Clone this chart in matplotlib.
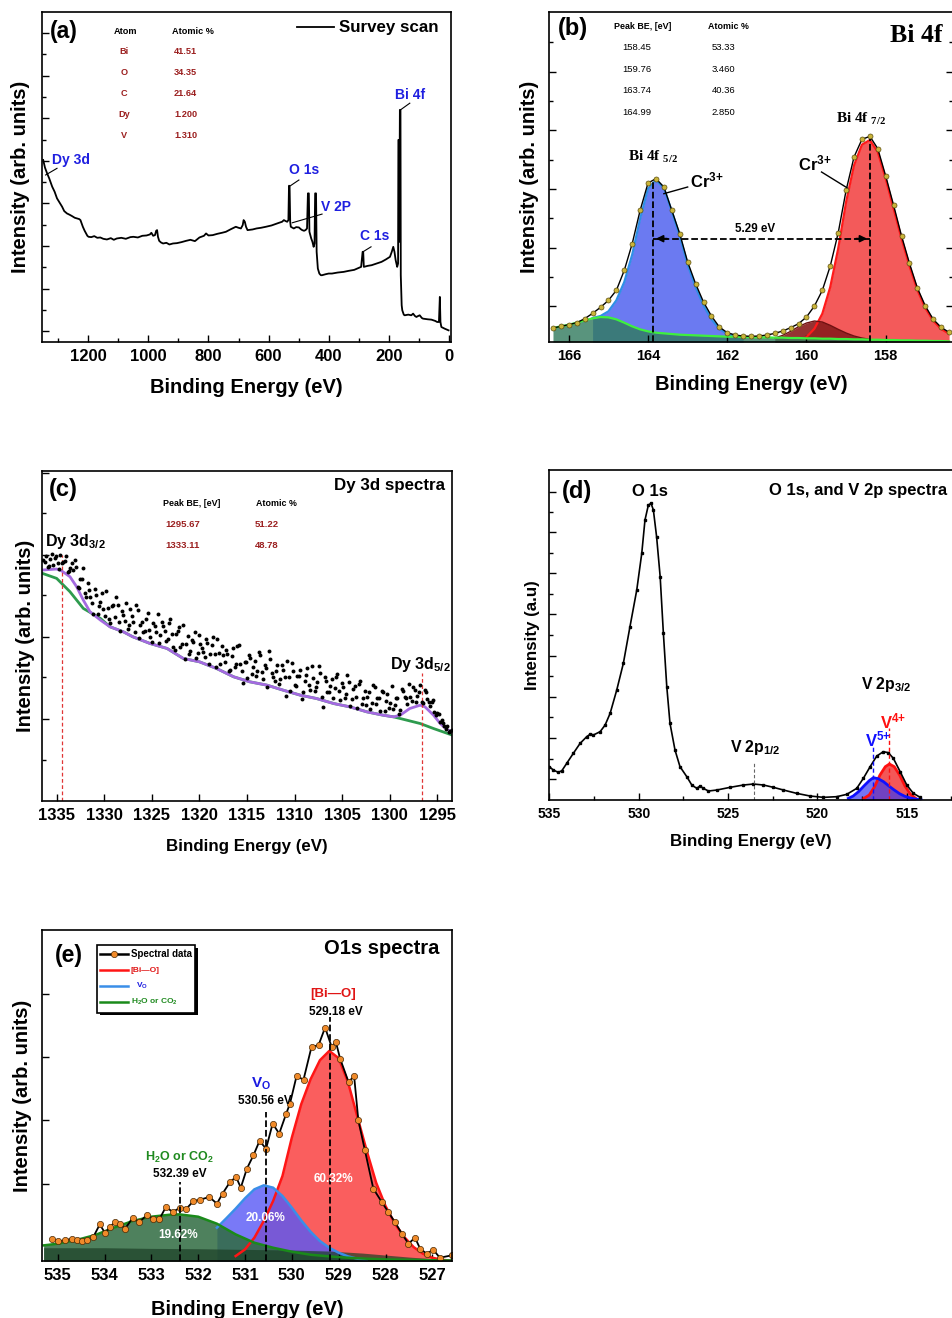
"""XPS spectra of Dy/V co-doped Bi sample: survey, Bi 4f, Dy 3d, O 1s/V 2p and O 1s fits."""

import numpy as np
import matplotlib.pyplot as plt
from matplotlib.ticker import MultipleLocator
from matplotlib.patches import Rectangle

plt.rcParams['font.family'] = ['Liberation Sans', 'DejaVu Sans']
plt.rcParams['font.weight'] = 'bold'
plt.rcParams['axes.labelweight'] = 'bold'
plt.rcParams['mathtext.default'] = 'regular'
plt.rcParams['axes.linewidth'] = 1.2

DARK_RED = '#9b1f1f'
SERIF = ['Liberation Serif', 'DejaVu Serif']

# ---------------- (a) survey scan ----------------
survey_be = [1350, 1344, 1337, 1330, 1320, 1312, 1304, 1296, 1287, 1280, 1271, 1262,
             1254, 1245, 1237, 1230, 1226, 1222, 1218, 1212, 1207, 1203, 1199, 1190,
             1180, 1170, 1160, 1150, 1138, 1125, 1115, 1105, 1090, 1075, 1060, 1050,
             1035, 1020, 1006, 995, 990, 984, 978, 974, 971, 968, 964, 958, 951, 940,
             930, 918, 905, 890, 874, 860, 845, 830, 815, 808, 800, 786, 770, 755,
             742, 725, 709, 700, 692, 686, 683, 679, 675, 670, 660, 653, 640, 625,
             609, 590, 575, 565, 555, 549, 543, 538, 534, 532, 530, 528, 526, 520,
             516, 508, 499, 493, 488, 482, 477, 472, 469, 466, 464, 458, 454, 450,
             447, 445, 442, 440, 436, 431, 426, 422, 410, 400, 389, 370, 350, 334,
             315, 300, 292, 287, 285, 283, 270, 257, 240, 224, 210, 196, 190, 185,
             181, 177, 172, 169, 168, 166, 165, 163, 161, 160, 157, 155, 150, 147,
             135, 125, 119, 113, 108, 102, 97, 90, 86, 70, 58, 45, 39, 33, 30, 28,
             25, 14, 1]
survey_int = [545, 522, 505, 490, 465, 450, 430, 418, 405, 392, 385, 381,
              377, 372, 370, 368, 365, 355, 345, 333, 325, 318, 315, 314,
              317, 312, 313, 309, 307, 311, 306, 310, 312, 309, 314, 315,
              313, 318, 319, 322, 327, 318, 320, 333, 335, 315, 303, 298, 295, 297,
              292, 295, 296, 299, 303, 306, 302, 313, 318, 325, 319, 320, 324, 327,
              330, 338, 345, 342, 340, 350, 365, 360, 345, 335, 336, 337, 340, 342,
              345, 349, 354, 357, 360, 365, 362, 360, 365, 468, 465, 360, 345, 342,
              340, 344, 343, 338, 335, 333, 335, 340, 445, 445, 330, 310, 300, 285,
              295, 445, 445, 270, 220, 205, 200, 200, 203, 205, 205, 208, 210, 213,
              216, 222, 225, 270, 270, 225, 228, 230, 235, 240, 247, 255, 270, 285,
              270, 245, 225, 235, 605, 605, 300, 695, 695, 200, 110, 95, 82, 80,
              82, 80, 85, 78, 75, 78, 80, 72, 70, 68, 67, 63, 60, 60, 135, 60,
              45, 40, 35]
survey_atoms = ['Bi', 'O', 'C', 'Dy', 'V']
survey_pct = ['41.51', '34.35', '21.64', '1.200', '1.310']

# ---------------- (b) Bi 4f ----------------
bi_be = np.linspace(166.4, 156.4, 51)
bi_data = [42, 47, 52, 58, 70, 86, 104, 125, 155, 215,
           295, 395, 477, 490, 465, 395, 325, 240, 175, 120,
           78, 45, 28, 21, 18, 17, 18, 21, 26, 33,
           43, 55, 75, 108, 155, 228, 327, 455, 555, 608,
           617, 580, 498, 410, 318, 236, 162, 108, 68, 44, 29]
bi_green = [42, 47, 52, 58, 65, 71, 75, 74, 68, 58,
            47, 38, 32, 28, 26, 24, 22, 21, 20, 19,
            18, 17, 16, 16, 15, 15, 14, 14, 13, 13,
            12, 12, 11, 11, 10, 10, 9, 9, 8, 8,
            7, 7, 6, 6, 5, 5, 4, 4, 3, 3, 2]
bi52_be = np.linspace(165.4, 161.6, 20)
bi52_int = [72, 78, 92, 125, 180, 262, 370, 460, 486, 462,
            392, 318, 232, 165, 110, 68, 40, 24, 18, 16]
bi_sat_be = np.linspace(160.8, 158.4, 13)
bi_sat_int = [12, 20, 32, 46, 57, 63, 60, 50, 38, 27, 18, 12, 8]
bi72_be = np.linspace(160.0, 156.4, 19)
bi72_int = [15, 40, 85, 165, 280, 420, 530, 592, 606, 570,
            490, 400, 310, 228, 156, 102, 64, 39, 25]
bi_peak_be = ['158.45', '159.76', '163.74', '164.99']
bi_peak_pct = ['53.33', '3.460', '40.36', '2.850']

# ---------------- (c) Dy 3d ----------------
dy_be = np.linspace(1336.4, 1293.5, 144)
dy_data = [722, 735, 704, 740, 728, 714, 738, 716, 735, 688,
           714, 721, 641, 664, 697, 612, 632, 592, 636, 559,
           597, 576, 630, 544, 585, 552, 588, 510, 557, 592,
           528, 554, 505, 571, 528, 505, 546, 513, 475, 523,
           561, 498, 525, 478, 534, 499, 453, 508, 462, 527,
           470, 439, 482, 505, 443, 471, 447, 484, 411, 467,
           439, 486, 411, 437, 453, 389, 435, 401, 464, 411,
           353, 416, 438, 381, 419, 388, 436, 364, 397, 450,
           383, 360, 407, 365, 392, 314, 372, 414, 347, 374,
           392, 325, 378, 347, 405, 328, 356, 384, 281, 359,
           326, 364, 337, 380, 303, 341, 319, 357, 305, 343,
           280, 358, 310, 288, 326, 294, 342, 310, 269, 327,
           301, 279, 343, 287, 309, 272, 328, 309, 350, 299,
           332, 315, 347, 295, 325, 296, 297, 268, 263, 237, 234, 217, 207, 212]
# second sweep, offset half a step
dy_be2 = np.linspace(1336.25, 1293.65, 143)
dy_data2 = [715, 702, 726, 707, 734, 694, 713, 718, 686, 698,
            692, 700, 637, 665, 624, 654, 612, 559, 617, 585,
            624, 553, 577, 532, 588, 610, 536, 568, 539, 515,
            576, 537, 588, 489, 536, 508, 564, 491, 534, 507,
            474, 536, 509, 486, 546, 461, 500, 520, 469, 426,
            494, 448, 476, 429, 497, 459, 430, 472, 439, 490,
            402, 443, 464, 415, 441, 392, 458, 410, 467, 389,
            417, 369, 427, 400, 373, 447, 385, 408, 341, 424,
            371, 388, 351, 408, 370, 418, 330, 388, 345, 373,
            306, 359, 397, 331, 369, 342, 405, 312, 370, 327,
            345, 308, 371, 329, 352, 310, 378, 286, 334, 311,
            349, 291, 329, 312, 275, 348, 291, 309, 328, 271,
            320, 293, 277, 308, 260, 335, 311, 292, 312, 340,
            298, 326, 296, 332, 305, 286, 302, 258, 262, 243, 225, 224, 209]
dy_fit_be = [1336.5, 1335, 1334.5, 1333.6, 1332.9, 1332.2, 1331.5, 1330.4, 1329.4,
             1328, 1327, 1325.2, 1323.4, 1321.7, 1320, 1318.2, 1316.4, 1314.7,
             1312.9, 1311.2, 1309.4, 1307.7, 1305.9, 1304.2, 1302.4, 1300.7,
             1299.6, 1298.9, 1297.9, 1296.8, 1296.3, 1295.4, 1294.7, 1294, 1293.4]
dy_fit_int = [692, 695, 690, 672, 642, 602, 567, 542, 522,
              507, 492, 472, 457, 427, 417, 397, 372, 357,
              347, 332, 317, 307, 292, 282, 267, 257,
              252, 257, 277, 287, 282, 257, 232, 214, 207]
dy_bg_be = [1336.5, 1335, 1334.3, 1333.6, 1332.2, 1330.4, 1329.4, 1328, 1327,
            1325.2, 1323.4, 1321.7, 1320, 1318.2, 1316.4, 1314.7, 1312.9, 1311.2,
            1309.4, 1307.7, 1305.9, 1304.2, 1302.4, 1300.7, 1299.6, 1298.9,
            1296.8, 1295.4, 1293.4]
dy_bg_int = [682, 667, 647, 627, 577, 547, 522, 507, 492,
             472, 457, 427, 417, 397, 372, 357, 347, 332,
             317, 307, 292, 282, 267, 257, 252, 247,
             232, 217, 197]
dy_marks = [1334.4, 1296.6]
dy_peak_be = ['1295.67', '1333.11']
dy_peak_pct = ['51.22', '48.78']

# ---------------- (d) O 1s + V 2p ----------------
ov_be = [535.0, 534.78, 534.5, 534.3, 534.03, 533.66, 533.28, 532.91, 532.7, 532.54,
         532.16, 531.88, 531.6, 531.23, 530.86, 530.49, 530.11, 529.83, 529.65, 529.46,
         529.31, 529.18, 529.0, 528.8, 528.62, 528.43, 528.25, 527.97, 527.69, 527.31,
         527.03, 526.75, 526.57, 526.38, 526.1, 525.63, 524.89, 524.14, 523.58, 523.02,
         522.46, 521.9, 521.16, 520.41, 519.66, 518.92, 518.36, 517.8, 517.43, 517.05,
         516.68, 516.31, 516.03, 515.75, 515.37, 515.0, 514.63, 514.25]
ov_int = [100, 90, 83, 88, 110, 140, 170, 190, 198, 195,
          205, 225, 260, 330, 410, 520, 630, 740, 840, 885,
          890, 870, 790, 670, 500, 340, 230, 150, 100, 70,
          45, 35, 42, 35, 27, 30, 38, 45, 48, 45,
          38, 30, 20, 12, 8, 10, 17, 35, 65, 100,
          132, 145, 142, 125, 85, 45, 20, 8]
v4_be = [517.4, 517.1, 516.8, 516.5, 516.2, 515.97, 515.7, 515.4, 515.1, 514.8, 514.5]
v4_int = [5, 15, 40, 75, 100, 108, 100, 75, 42, 18, 5]
v5_be = [518.27, 518.0, 517.7, 517.4, 517.1, 516.87, 516.6, 516.3, 516.0, 515.7,
         515.4, 515.1, 514.8, 514.5, 514.2]
v5_int = [5, 12, 25, 42, 58, 67, 64, 55, 42, 30, 19, 11, 6, 3, 1]

# ---------------- (e) O1s fit ----------------
o1s_be = [535.13, 534.99, 534.84, 534.70, 534.59, 534.49, 534.37, 534.24, 534.10, 533.99,
          533.88, 533.78, 533.67, 533.56, 533.40, 533.26, 533.10, 532.96, 532.83, 532.69,
          532.54, 532.39, 532.25, 532.10, 531.96, 531.76, 531.60, 531.48, 531.32, 531.19,
          531.09, 530.96, 530.82, 530.69, 530.55, 530.41, 530.27, 530.12, 530.04, 529.90,
          529.75, 529.58, 529.43, 529.29, 529.15, 529.06, 528.97, 528.79, 528.67, 528.58,
          528.44, 528.26, 528.08, 527.94, 527.80, 527.65, 527.51, 527.37, 527.26, 527.12,
          526.98, 526.84, 526.59]
o1s_int = [67, 59, 62, 67, 64, 60, 62, 72, 110, 84,
           102, 117, 112, 97, 129, 117, 137, 127, 125, 162,
           147, 160, 157, 180, 184, 192, 172, 202, 237, 252,
           220, 277, 317, 360, 337, 412, 382, 442, 472, 554,
           544, 642, 647, 700, 642, 657, 607, 537, 554, 422,
           332, 217, 177, 147, 117, 82, 52, 70, 37, 22,
           34, 10, 17]
bio_be = np.linspace(531.2, 526.6, 24)
bio_int = [15, 35, 70, 120, 180, 255, 370, 470, 545, 602, 630, 608,
           536, 432, 330, 235, 165, 112, 72, 42, 22, 10, 4, 1]
vo_be = np.linspace(531.6, 528.4, 17)
vo_int = [100, 128, 157, 188, 215, 227, 220, 195, 160, 122, 88, 60, 40, 25, 14, 7, 3]
h2o_be = [535.3, 535.0, 534.6, 534.2, 533.8, 533.4, 533.0, 532.6, 532.4, 532.0, 531.6,
          531.2, 530.8, 530.4, 530.0, 529.6, 529.2, 528.8, 528.4, 528.0, 527.6, 527.2,
          526.8, 526.6]
h2o_int = [47, 52, 63, 78, 100, 120, 133, 139, 140, 133, 112,
           80, 55, 40, 28, 19, 14, 10, 7, 5, 4, 3, 2, 2]
o1s_bg_be = [535.3, 534.0, 533.0, 532.0, 531.0, 530.0, 529.2, 528.5, 528.0, 527.5, 527.0, 526.6]
o1s_bg_int = [40, 40, 38, 37, 35, 33, 30, 24, 18, 12, 7, 4]
o1s_centers = [529.18, 530.56, 532.39]
o1s_pct = ['60.32%', '20.06%', '19.62%']


def style_axes(ax, xmajor, xminor, ymajor, yminor, labelsize, right=False):
    ax.xaxis.set_major_locator(MultipleLocator(xmajor))
    if xminor:
        ax.xaxis.set_minor_locator(MultipleLocator(xminor))
    ax.set_yticks(ymajor)
    ax.set_yticks(yminor, minor=True)
    ax.set_yticklabels([])
    ax.tick_params(which='both', direction='in', width=1, right=right,
                   labelsize=labelsize, pad=5)
    ax.tick_params(which='major', length=5)
    ax.tick_params(which='minor', length=3)


fig = plt.figure(figsize=(9.52, 13.18), dpi=100)

# ---- (a)
ax = fig.add_axes([0.0441, 0.7405, 0.4296, 0.2504])
ax.plot(survey_be, survey_int, color='k', lw=1.3, label='Survey scan')
ax.set_xlim(1354, -7)
ax.set_ylim(0, 988)
style_axes(ax, 200, 100, np.arange(32, 988, 127.6), np.arange(95.8, 988, 127.6), 12)
ax.set_xlabel('Binding Energy (eV)', fontsize=14.5, labelpad=10)
ax.set_ylabel('Intensity (arb. units)', fontsize=14.5, labelpad=3.5)
ax.legend(loc='upper right', frameon=False, fontsize=12.2, handlelength=2.2,
          handletextpad=0.3, borderaxespad=0.1, bbox_to_anchor=(0.99, 1.0))
ax.text(0.02, 0.942, '(a)', transform=ax.transAxes, fontsize=16.5, va='center')
ax.text(0.205, 0.942, 'Atom', transform=ax.transAxes, fontsize=6.6, ha='center', va='center')
ax.text(0.368, 0.942, 'Atomic %', transform=ax.transAxes, fontsize=6.6, ha='center', va='center')
for i, (atom, pct) in enumerate(zip(survey_atoms, survey_pct)):
    y = 0.879 - i * 0.063
    ax.text(0.200, y, atom, transform=ax.transAxes, fontsize=6.6, ha='center',
            va='center', color=DARK_RED)
    ax.text(0.351, y, pct, transform=ax.transAxes, fontsize=6.6, ha='center',
            va='center', color=DARK_RED)
survey_labels = [('Dy 3d', (1342, 500), (1304, 520), (1320, 545)),
                 ('O 1s', (532, 465), (499, 485), (532, 515)),
                 ('V 2P', (521, 357), (422, 383), (427, 405)),
                 ('C 1s', (286, 270), (259, 285), (295, 317)),
                 ('Bi 4f', (161, 695), (130, 715), (180, 740))]
for name, p0, p1, pt in survey_labels:
    ax.plot([p0[0], p1[0]], [p0[1], p1[1]], color='k', lw=0.8)
    ax.text(pt[0], pt[1], name, color='#1f1fe0', fontsize=10, ha='left', va='center')

# ---- (b)
ax = fig.add_axes([0.5767, 0.7405, 0.4244, 0.2504])
ax.fill_between(bi52_be, bi52_int, color='#5b6cf0', alpha=0.9, lw=0)
ax.fill_between(bi72_be, bi72_int, color='#f24848', alpha=0.9, lw=0)
ax.fill_between(bi_sat_be, bi_sat_int, color='#8a1c1c', alpha=0.9, lw=0)
ax.fill_between(bi_be, bi_green, color='#2f7a5c', alpha=0.8, lw=0)
ax.plot(bi52_be, bi52_int, color='#2f8fe6', lw=1.6)
ax.plot(bi72_be, bi72_int, color='#ff1a1a', lw=1.6)
ax.plot(bi_sat_be, bi_sat_int, color='#6e1010', lw=1)
ax.plot(bi_be, bi_green, color='#3ef03e', lw=1.6)
ax.plot(bi_be, bi_data, '-o', color='k', lw=1, ms=3.6, mfc='#c9b43a', mec='#5e4f10', mew=0.5)
ax.set_xlim(166.5, 156.3)
ax.set_ylim(0, 990)
style_axes(ax, 2, None, [107, 283, 459, 635, 811], [195, 371, 547, 723, 899], 10.5, right=True)
ax.set_xlabel('Binding Energy (eV)', fontsize=14.5, labelpad=9)
ax.set_ylabel('Intensity (arb. units)', fontsize=14.5, labelpad=2.2)
ax.text(0.022, 0.951, '(b)', transform=ax.transAxes, fontsize=17, va='center')
ax.text(0.232, 0.955, 'Peak BE, [eV]', transform=ax.transAxes, fontsize=6.4, ha='center', va='center')
ax.text(0.443, 0.955, 'Atomic %', transform=ax.transAxes, fontsize=6.4, ha='center', va='center')
for i, (be, pct) in enumerate(zip(bi_peak_be, bi_peak_pct)):
    y = 0.891 - i * 0.0647
    ax.text(0.218, y, be, transform=ax.transAxes, fontsize=6.8, ha='center',
            va='center', fontweight='normal')
    ax.text(0.431, y, pct, transform=ax.transAxes, fontsize=6.8, ha='center',
            va='center', fontweight='normal')
ax.text(0.975, 0.93, 'Bi 4f', transform=ax.transAxes, fontsize=18.5, ha='right',
        va='center', family=SERIF)
ax.text(163.87, 555, 'Bi 4f$_{\\ 5/2}$', fontsize=11, ha='center', va='center', family=SERIF)
ax.text(158.62, 670, 'Bi 4f$_{\\ 7/2}$', fontsize=11, ha='center', va='center', family=SERIF)
ax.text(162.95, 485, 'Cr$^{3{+}}$', fontsize=12, ha='left', va='center')
ax.plot([163.0, 163.6], [465, 445], color='k', lw=1)
ax.text(160.21, 537, 'Cr$^{3{+}}$', fontsize=12, ha='left', va='center')
ax.plot([159.62, 158.98], [510, 463], color='k', lw=1)
ax.plot([163.87, 163.87], [0, 485], color='k', lw=1.3, ls='--')
ax.plot([158.40, 158.40], [0, 610], color='k', lw=1.3, ls='--')
ax.plot([163.87, 158.40], [310, 310], color='k', lw=1.3, ls='--')
ax.annotate('', xy=(163.87, 310), xytext=(163.45, 310),
            arrowprops=dict(arrowstyle='-|>', color='k', lw=1.3, mutation_scale=10))
ax.annotate('', xy=(158.40, 310), xytext=(158.82, 310),
            arrowprops=dict(arrowstyle='-|>', color='k', lw=1.3, mutation_scale=10))
ax.text(161.29, 340, '5.29 eV', fontsize=8.4, ha='center', va='center')

# ---- (c)
ax = fig.add_axes([0.0441, 0.3923, 0.4307, 0.2504])
ax.plot(dy_bg_be, dy_bg_int, color='#2e9b4e', lw=2)
ax.plot(dy_fit_be, dy_fit_int, color='#a46ae0', lw=2)
ax.scatter(dy_be, dy_data, s=8, color='k', zorder=3, lw=0)
ax.scatter(dy_be2, dy_data2, s=8, color='k', zorder=3, lw=0)
ax.plot([dy_marks[0]] * 2, [0, 737], color='#e03535', lw=0.9, ls=(0, (3, 2)))
ax.plot([dy_marks[1]] * 2, [0, 382], color='#e03535', lw=0.9, ls=(0, (3, 2)))
ax.set_xlim(1336.54, 1293.46)
ax.set_ylim(0, 989)
style_axes(ax, 5, None, [247, 492, 737, 982], [122, 370, 617, 862], 12)
ax.set_xlabel('Binding Energy (eV)', fontsize=12.2, labelpad=11.5)
ax.set_ylabel('Intensity (arb. units)', fontsize=14.5, labelpad=0)
ax.text(0.017, 0.944, '(c)', transform=ax.transAxes, fontsize=17, va='center')
ax.text(0.984, 0.957, 'Dy 3d spectra', transform=ax.transAxes, fontsize=12.2,
        ha='right', va='center')
ax.text(0.364, 0.902, 'Peak BE, [eV]', transform=ax.transAxes, fontsize=6.4, ha='center', va='center')
ax.text(0.572, 0.902, 'Atomic %', transform=ax.transAxes, fontsize=6.4, ha='center', va='center')
for i, (be, pct) in enumerate(zip(dy_peak_be, dy_peak_pct)):
    y = 0.839 - i * 0.065
    ax.text(0.344, y, be, transform=ax.transAxes, fontsize=6.8, ha='center',
            va='center', color=DARK_RED)
    ax.text(0.547, y, pct, transform=ax.transAxes, fontsize=6.8, ha='center',
            va='center', color=DARK_RED)
ax.text(0.0065, 0.786, 'Dy 3d$_{3/2}$', transform=ax.transAxes, fontsize=11.5, va='center')
ax.text(0.848, 0.412, 'Dy 3d$_{5/2}$', transform=ax.transAxes, fontsize=11.5, va='center')

# ---- (d)
ax = fig.add_axes([0.5767, 0.3930, 0.4244, 0.2504])
ax.fill_between(v4_be, v4_int, color='#f23a3a', alpha=0.85, lw=0)
ax.plot(v4_be, v4_int, color='#ff1010', lw=2)
ax.fill_between(v5_be, v5_int, color='#3a3af0', alpha=0.7, lw=0)
ax.plot(v5_be, v5_int, color='#1010ff', lw=2)
ax.plot(ov_be, ov_int, '-s', color='k', lw=1.2, ms=2)
ax.plot([523.55, 523.55], [0, 115], color='#666666', lw=0.8, ls=(0, (3, 2)))
ax.plot([516.87, 516.87], [0, 165], color='#1010ff', lw=1, ls=(0, (3, 2)))
ax.plot([515.97, 515.97], [0, 215], color='#ff1010', lw=1, ls=(0, (3, 2)))
ax.set_xlim(535.02, 512.41)
ax.set_ylim(0, 990)
style_axes(ax, 5, 2.5, [62, 187, 310, 433, 557, 680, 803, 925],
           [124, 248, 371, 495, 618, 741, 864], 10)
ax.set_xlabel('Binding Energy (eV)', fontsize=12.2, labelpad=9.5)
ax.set_ylabel('Intensity (a.u)', fontsize=12.2, labelpad=1.4)
ax.text(0.031, 0.934, '(d)', transform=ax.transAxes, fontsize=17, va='center')
ax.text(0.25, 0.934, 'O 1s', transform=ax.transAxes, fontsize=12, ha='center', va='center')
ax.text(0.986, 0.937, 'O 1s, and V 2p spectra', transform=ax.transAxes, fontsize=12,
        ha='right', va='center')
ax.text(524.9, 158, 'V 2p$_{1/2}$', fontsize=11.4, va='center')
ax.text(517.57, 348, 'V 2p$_{3/2}$', fontsize=11.4, va='center')
ax.text(517.33, 182, 'V$^{5{+}}$', fontsize=12, va='center', color='#1010ff')
ax.text(516.49, 235, 'V$^{4{+}}$', fontsize=12, va='center', color='#ff1010')

# ---- (e)
ax = fig.add_axes([0.0441, 0.0432, 0.4307, 0.2511])
ax.fill_between(bio_be, bio_int, color='#fa5555', alpha=0.95, lw=0)
ax.plot(bio_be, bio_int, color='#ff1515', lw=1.8)
ax.fill_between(vo_be, vo_int, color='#5858f5', alpha=0.8, lw=0)
ax.plot(vo_be, vo_int, color='#3a8ee8', lw=1.8)
ax.fill_between(h2o_be, h2o_int, color='#2f6b40', alpha=0.85, lw=0)
ax.fill_between(o1s_bg_be, o1s_bg_int, color='#1b3f26', alpha=0.7, lw=0)
ax.plot(h2o_be, h2o_int, color='#1a8a1a', lw=1.8)
ax.plot(o1s_be, o1s_int, '-o', color='k', lw=1.3, ms=4.5, mfc='#f08a2a', mec='#4a2a05', mew=0.5)
tops = [732, 447, 237]
for c, top in zip(o1s_centers, tops):
    ax.plot([c, c], [0, top], color='k', lw=1.3, ls='--')
ax.set_xlim(535.335, 526.58)
ax.set_ylim(0, 992)
style_axes(ax, 1, None, [232, 422, 612, 802], [], 12)
ax.set_xlabel('Binding Energy (eV)', fontsize=14.5, labelpad=12)
ax.set_ylabel('Intensity (arb. units)', fontsize=14.5, labelpad=2)
ax.text(0.031, 0.924, '(e)', transform=ax.transAxes, fontsize=16.5, va='center')
ax.text(0.97, 0.945, 'O1s spectra', transform=ax.transAxes, fontsize=14.5, ha='right', va='center')
ax.text(529.11, 802, '[Bi\u2014O]', fontsize=9.5, ha='center', va='center', color='#e01515')
ax.text(529.06, 747, '529.18 eV', fontsize=8.5, ha='center', va='center')
ax.text(530.66, 532, 'V$_{O}$', fontsize=11, ha='center', va='center', color='#1a1ae0')
ax.text(530.57, 480, '530.56 eV', fontsize=8.5, ha='center', va='center')
ax.text(532.39, 310, 'H$_{2}$O or CO$_{2}$', fontsize=9, ha='center', va='center', color='#1f8a1f')
ax.text(532.39, 260, '532.39 eV', fontsize=8.5, ha='center', va='center')
for (x, y), pct in zip([(529.11, 247), (530.57, 129), (532.44, 77)], o1s_pct):
    ax.text(x, y, pct, fontsize=8.5, ha='center', va='center', color='white')

# hand-drawn legend box with a solid shadow
ax.add_patch(Rectangle((0.141, 0.742), 0.239, 0.205, transform=ax.transAxes,
                       facecolor='k', edgecolor='k', lw=0, zorder=5))
ax.add_patch(Rectangle((0.134, 0.750), 0.239, 0.205, transform=ax.transAxes,
                       facecolor='white', edgecolor='k', lw=1.2, zorder=6))
legend_rows = [('Spectral data', 'k', 'k'), ('[Bi\u2014O]', '#ff1515', '#e01515'),
               ('V$_{O}$', '#3a8ee8', '#1a1ae0'), ('H$_{2}$O or CO$_{2}$', '#1a8a1a', '#1f8a1f')]
for i, (lab, lc, tc) in enumerate(legend_rows):
    y = 0.927 - i * 0.048
    ax.plot([0.141, 0.210], [y, y], color=lc, lw=1.8, transform=ax.transAxes, zorder=7)
    if i == 0:
        ax.plot([0.176], [y], 'o', ms=4.5, mfc='#f08a2a', mec='#4a2a05', mew=0.5,
                transform=ax.transAxes, zorder=8)
    ax.text(0.217 + (0.012 if i == 2 else 0), y, lab, transform=ax.transAxes,
            fontsize=7 if i == 0 else 6, color=tc, va='center', zorder=8)

fig.savefig('out.png', dpi=100)
